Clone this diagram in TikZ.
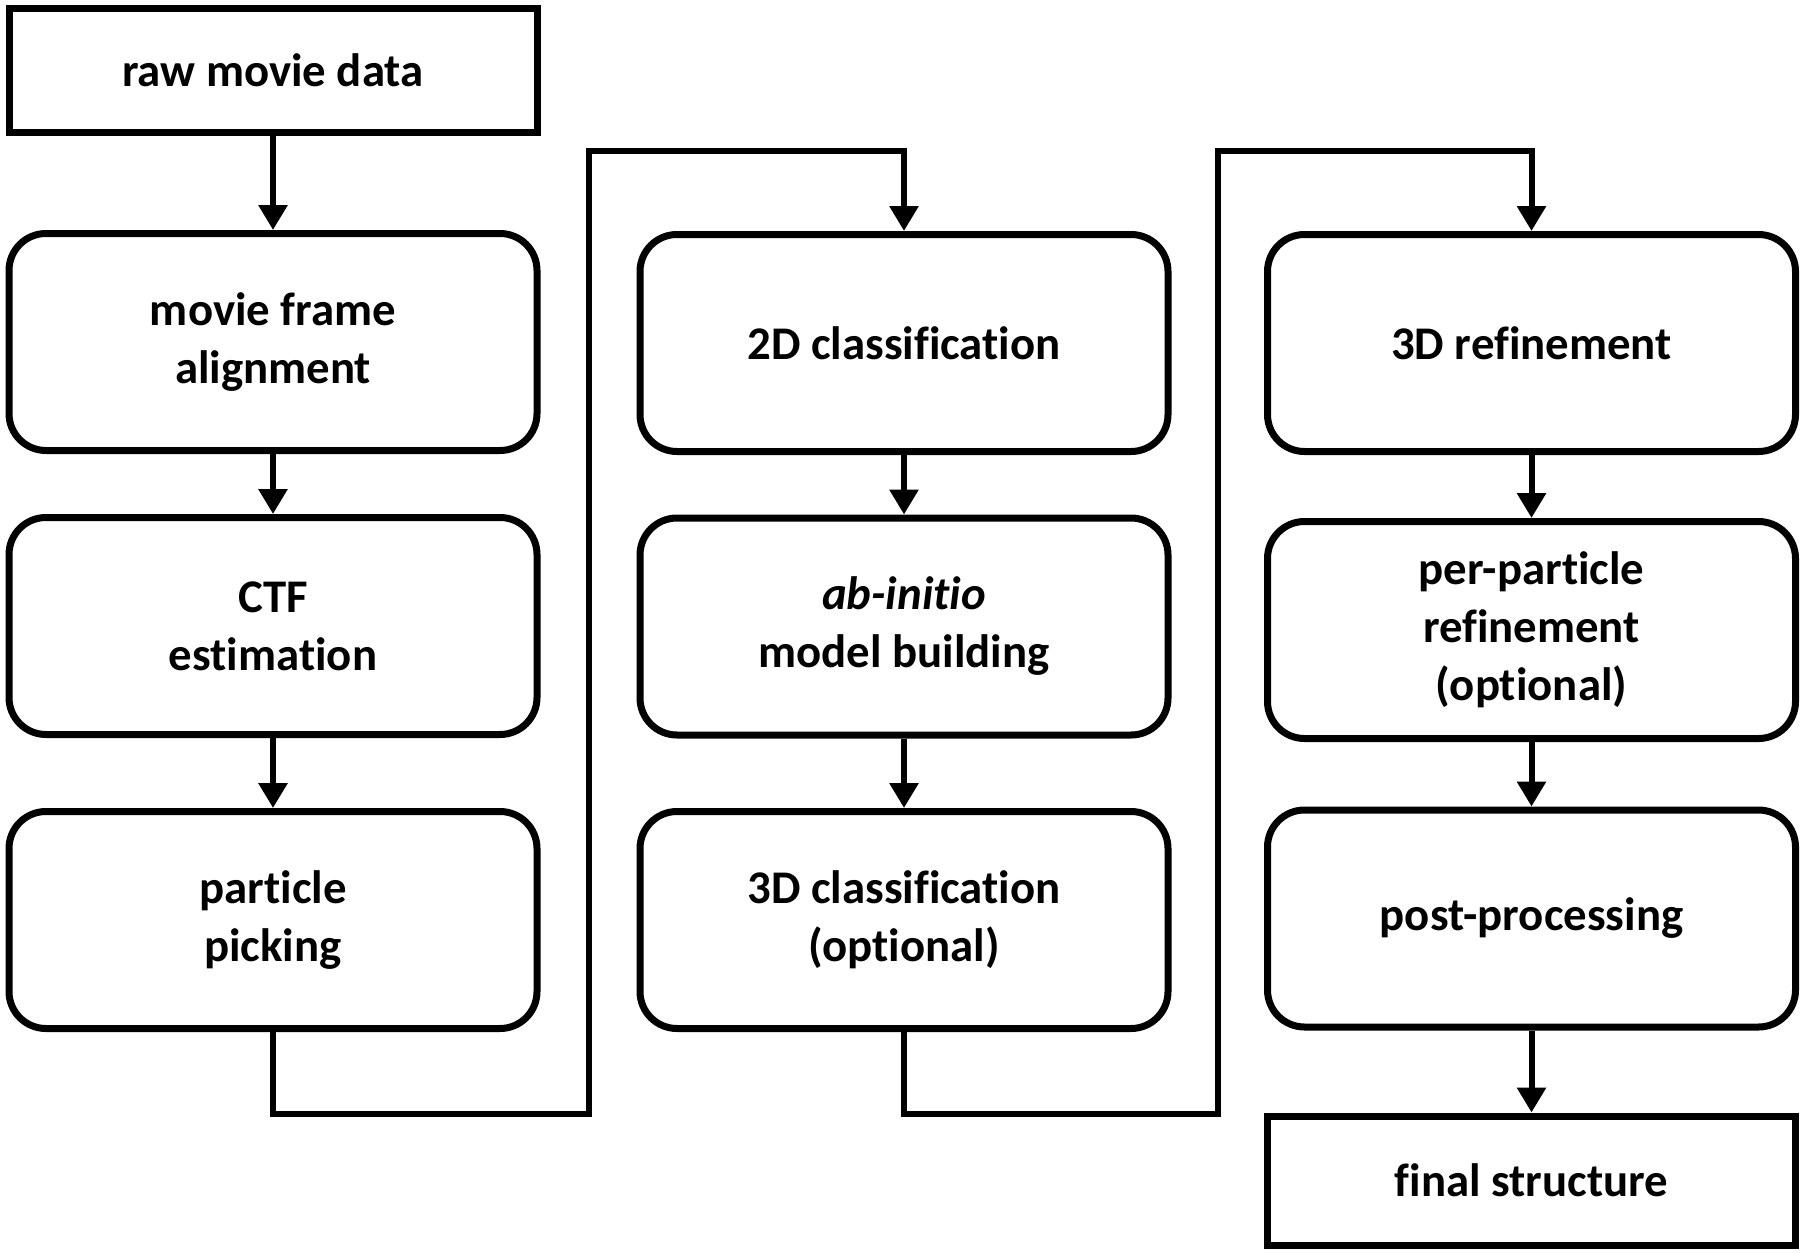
\documentclass[tikz,border=0pt]{standalone}
\usepackage{fontspec}
\setmainfont{Carlito}[Ligatures = NoCommon]
\usetikzlibrary{arrows.meta}

\begin{document}
\begin{tikzpicture}[x = 0.5pt, y = -0.5pt,
  stepbox/.style = {draw, line width = 3.5pt, rounded corners = 18.5pt,
                    minimum width = 264pt, minimum height = 108.5pt,
                    inner sep = 0pt, align = center,
                    font = \fontsize{23.4}{29}\selectfont\bfseries},
  endbox/.style = {stepbox, sharp corners},
  flow/.style = {line width = 3pt, -{Triangle[length = 12.5pt, width = 14pt]}}]
\useasboundingbox (0, 0) rectangle (1808, 1252);
% first column
\draw (273, 70.5) node[endbox, minimum height = 61.5pt] (raw) {raw movie data};
\draw (273, 342) node[stepbox] (frames) {movie frame\\alignment};
\draw (273, 626) node[stepbox] (ctf) {CTF\\estimation};
\draw (273, 920) node[stepbox] (picking) {particle\\picking};
% second column
\draw (904, 343) node[stepbox] (cls2d) {2D classification};
\draw (904, 626.5) node[stepbox] (abinitio) {\textit{ab-initio}\\model building};
\draw (904, 920) node[stepbox] (cls3d) {3D classification\\(optional)};
% third column
\draw (1531.5, 343) node[stepbox] (ref3d) {3D refinement};
\draw (1531.5, 630) node[stepbox] (perpart) {per-particle\\refinement\\(optional)};
\draw (1531.5, 918.5) node[stepbox] (post) {post-processing};
\draw (1531.5, 1180.5) node[endbox, minimum height = 64.5pt] (final) {final structure};
% turning points of the two long connectors
\coordinate (lowA) at (589, 1114);
\coordinate (topA) at (589, 151);
\coordinate (lowB) at (1218, 1114);
\coordinate (topB) at (1218, 151);
\draw[flow] (raw.south) -- (frames.north);
\draw[flow] (frames.south) -- (ctf.north);
\draw[flow] (ctf.south) -- (picking.north);
\draw[flow] (picking.south) |- (lowA) -- (topA) -| (cls2d.north);
\draw[flow] (cls2d.south) -- (abinitio.north);
\draw[flow] (abinitio.south) -- (cls3d.north);
\draw[flow] (cls3d.south) |- (lowB) -- (topB) -| (ref3d.north);
\draw[flow] (ref3d.south) -- (perpart.north);
\draw[flow] (perpart.south) -- (post.north);
\draw[flow] (post.south) -- (final.north);
\end{tikzpicture}
\end{document}
